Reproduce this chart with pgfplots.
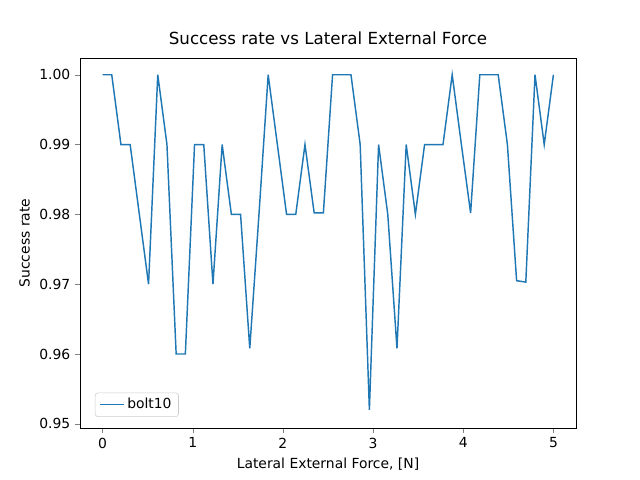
\documentclass[border=0pt]{standalone}
\usepackage{pgfplots}
\pgfplotsset{compat=1.18}
\usepackage{fontspec}
\setmainfont{DejaVu Sans}
\definecolor{mplblue}{HTML}{1F77B4}
\begin{document}
\begin{tikzpicture}
\path (0,0) rectangle (460.8pt,345.6pt);
\begin{axis}[at={(57.6pt,37.44pt)}, anchor=south west,
 scale only axis, width=357.1pt, height=266.4pt,
 xmin=-0.25, xmax=5.25, ymin=0.9494, ymax=1.0024,
 xtick={0,1,2,3,4,5}, ytick={0.95,0.96,0.97,0.98,0.99,1.00},
 /pgf/number format/assume math mode=true,
 yticklabel style={/pgf/number format/fixed,/pgf/number format/fixed zerofill,/pgf/number format/precision=2},
 xticklabel style={/pgf/number format/fixed},
 tick align=outside, tick pos=left, major tick length=3.5pt,
 ticklabel style={font=\fontsize{10}{12}\selectfont},
 title={\fontsize{12}{14}\selectfont Success rate vs Lateral External Force},
 xlabel={\fontsize{10}{12}\selectfont Lateral External Force, [N]},
 ylabel={\fontsize{10}{12}\selectfont Success rate},
 legend pos=south west, legend cell align=left,
 legend style={font=\fontsize{10}{12}\selectfont, draw=black!20, rounded corners=2pt},
]
\addplot[mplblue, line width=1.05pt] table[x expr={\coordindex*5/49}, y=y] {
y
1.00
1.00
0.99
0.99
0.98
0.97
1.00
0.99
0.96
0.96
0.99
0.99
0.97
0.99
0.98
0.98
0.9608
0.98
1.00
0.99
0.98
0.98
0.99
0.9802
0.9802
1.00
1.00
1.00
0.99
0.952
0.99
0.98
0.9608
0.99
0.98
0.99
0.99
0.99
1.00
0.99
0.9802
1.00
1.00
1.00
0.99
0.9705
0.9703
1.00
0.99
1.00
};
\addlegendentry{bolt10}
\end{axis}
\end{tikzpicture}
\end{document}
